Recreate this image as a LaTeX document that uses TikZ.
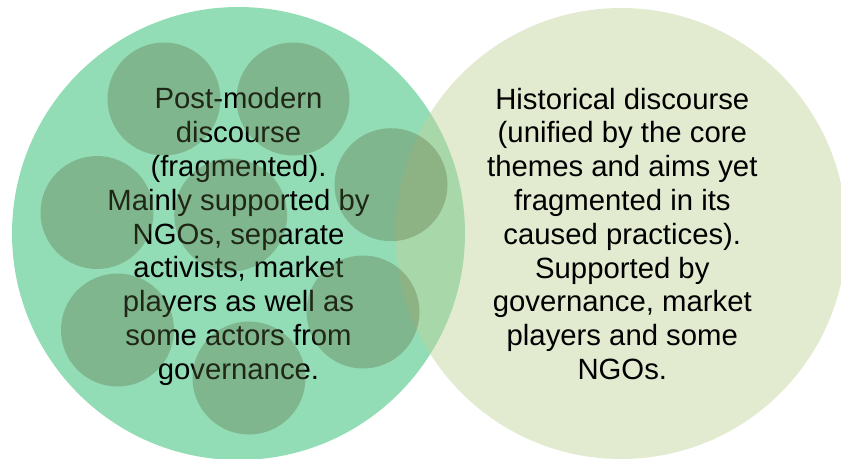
\documentclass[tikz,border=0pt]{standalone}
\usepackage{fontspec}
\setmainfont{Liberation Sans}
\definecolor{bigleft}{RGB}{146,221,182}
\definecolor{bigright}{RGB}{194,211,155}
\definecolor{smallc}{RGB}{92,112,68}
\begin{document}
\begin{tikzpicture}[x=1pt,y=-1pt,
  bigcirc/.style={circle,draw=none,inner sep=0pt},
  smallcirc/.style={circle,draw=none,inner sep=0pt,minimum size=113pt,fill=smallc,fill opacity=0.35},
  bodytext/.style={align=center,inner sep=0pt,text=black,font=\fontsize{29.3}{33.8}\selectfont}]
\useasboundingbox (0,0) rectangle (841,458);
\node[bigcirc,fill=bigleft,minimum size=453pt] (leftc) at (238.5,233.5) {};
\node[bigcirc,fill=bigright,fill opacity=0.47,minimum size=451pt] (rightc) at (621,233.5) {};
\node[bodytext] (lefttext) at (238.5,236.6) {Post-modern\\discourse\\(fragmented).\\Mainly supported by\\NGOs, separate\\activists, market\\players as well as\\some actors from\\governance.};
\node[bodytext] (righttext) at (622.3,233.8) {Historical discourse\\(unified by the core\\themes and aims yet\\fragmented in its\\caused practices).\\Supported by\\governance, market\\players and some\\NGOs.};
\node[smallcirc] (s1) at (164,99) {};
\node[smallcirc] (s2) at (293,99) {};
\node[smallcirc] (s3) at (391,184.7) {};
\node[smallcirc] (s4) at (97,212.5) {};
\node[smallcirc] (s5) at (230.7,215) {};
\node[smallcirc] (s6) at (117.5,330) {};
\node[smallcirc] (s7) at (363,312) {};
\node[smallcirc] (s8) at (249,378) {};
\end{tikzpicture}
\end{document}
